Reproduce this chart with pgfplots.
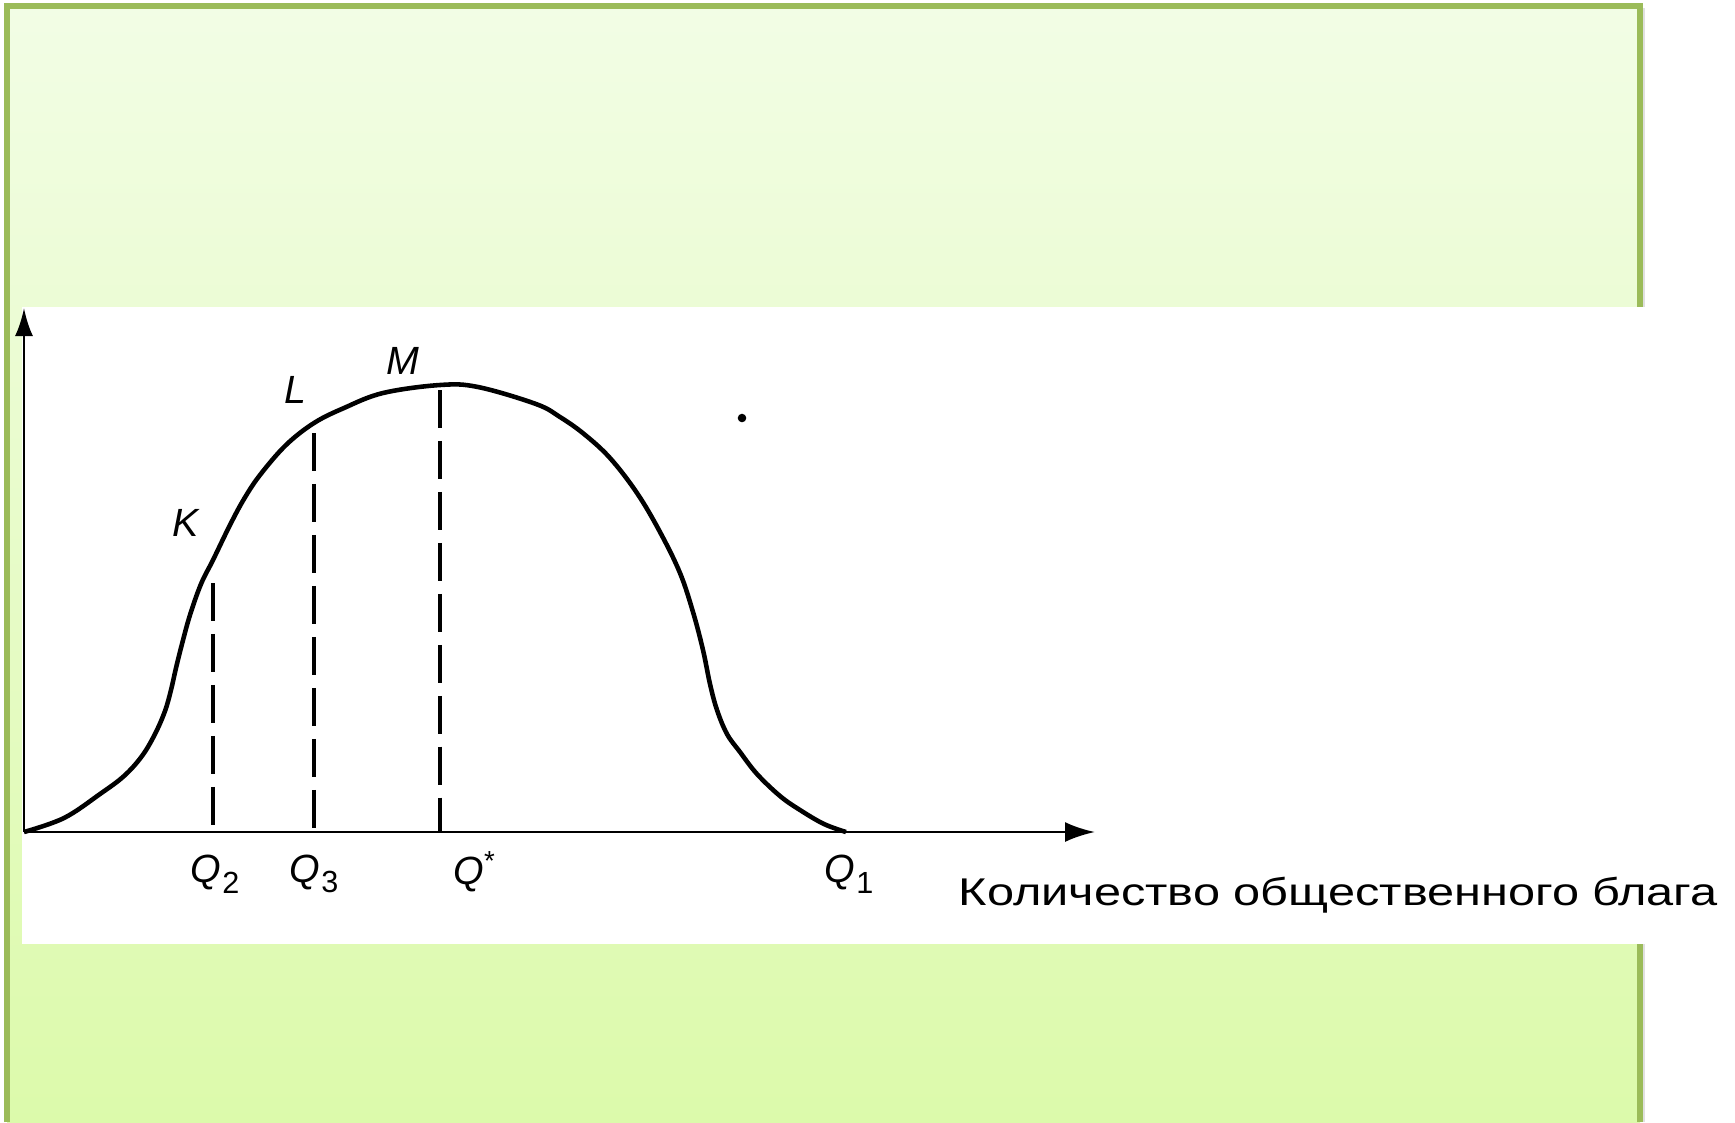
\documentclass[border=0pt]{standalone}
\usepackage{fontspec}
\setmainfont{Liberation Sans}
\newfontfamily\widefont[FakeStretch=1.26]{Liberation Sans}
\usepackage{pgfplots}
\pgfplotsset{compat=1.18}
\usetikzlibrary{arrows.meta}
\definecolor{paneltop}{HTML}{F2FDE5}
\definecolor{panelbot}{HTML}{DCFAAB}
\definecolor{panelrule}{HTML}{9BBB59}

\newcommand{\Qsub}[1]{\textit{Q}\kern0.3pt\raisebox{-3pt}{\fontsize{8.7}{9}\selectfont #1}}

\begin{document}
\begin{tikzpicture}[lab/.style={font=\fontsize{11.2}{13}\selectfont}]
% page: 1 px of the reference = 0.01 cm, y runs downward
\useasboundingbox (0,0) rectangle (17.35,-11.22);
\fill[white] (0,0) rectangle (17.35,-11.22);
\fill[black!12] (16.40,-0.08) rectangle (16.45,-11.22);
\shade[top color=paneltop, bottom color=panelbot] (0.07,-0.06) rectangle (16.40,-11.22);
\draw[panelrule, line width=0.6mm] (0.07,-11.22) -- (0.07,-0.06) -- (16.40,-0.06) -- (16.40,-11.22);
\fill[white] (0.22,-3.07) rectangle (17.35,-9.44);

\begin{axis}[
    at={(0.24cm,-8.32cm)}, anchor=origin,
    scale only axis, width=10.71cm, height=5.24cm,
    xmin=0, xmax=1071, ymin=0, ymax=524,
    axis lines=left,
    axis line style={line width=0.8pt},
    x axis line style={-{Latex[length=0.30cm,width=0.20cm]}},
    y axis line style={-{Latex[length=0.28cm,width=0.18cm]}},
    xtick=\empty, ytick=\empty,
    clip=false,
]
% the curve
\addplot[black, line width=1.3pt, smooth, tension=0.6] coordinates {
    (0,0) (40,14) (76,38) (100,56) (118,76) (131,98) (141,121) (147,142)
    (152,164) (158,188) (166,217) (177,248) (189,272) (206,307) (220,333)
    (236,357) (262,387) (290,409) (320,424) (359,439) (416,447) (454,445)
    (512,428) (536,415) (560,398) (586,374) (613,339) (636,300) (656,259)
    (669,220) (679,182) (686,148) (693,122) (703,98) (716,80) (733,58)
    (756,36) (776,22) (800,8) (822,0)
};
% dashed verticals
\addplot[black, line width=1.0pt, dash pattern=on 10.8pt off 3.7pt] coordinates {(189,249) (189,0)};
\addplot[black, line width=1.0pt, dash pattern=on 10.8pt off 3.7pt] coordinates {(290,399) (290,0)};
\addplot[black, line width=1.0pt, dash pattern=on 10.8pt off 3.7pt] coordinates {(416,442) (416,0)};
% stray dot of the scan
\addplot[only marks, mark=*, mark size=1.0pt, black] coordinates {(718,414)};

\node[lab] at (axis cs:162,309) {\textit{K}};
\node[lab] at (axis cs:271,442) {\textit{L}};
\node[lab] at (axis cs:379,471) {\textit{M}};
\node[lab] at (axis cs:191,-42) {\Qsub{2}};
\node[lab] at (axis cs:290,-42) {\Qsub{3}};
\node[lab] at (axis cs:451,-40) {\textit{Q}\textsuperscript{*}};
\node[lab] at (axis cs:825,-42) {\Qsub{1}};
\node[anchor=west, inner sep=0pt] at (axis cs:934,-63)
    {\widefont\fontsize{11}{13}\selectfont Количество общественного блага};
\end{axis}
\end{tikzpicture}
\end{document}
